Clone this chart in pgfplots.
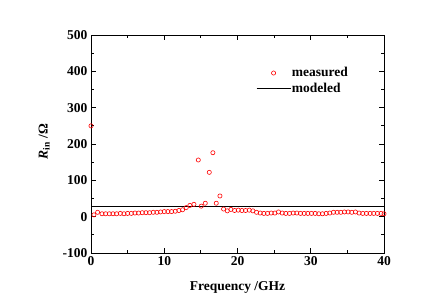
\documentclass[border=0pt]{standalone}
\usepackage{pgfplots}
\pgfplotsset{compat=1.18}
\usepackage{fontspec}
\setmainfont{Liberation Serif}
\newcommand{\ff}{\fontsize{13.5}{15}\selectfont\bfseries}
\pgfplotsset{
  marklegend/.style={legend image code/.code={\draw[mark repeat=2,mark phase=2,##1] plot coordinates {(0pt,0pt)(17pt,0pt)(34pt,0pt)};}},
  linelegend/.style={legend image code/.code={\draw[##1] (0pt,0pt) -- (34pt,0pt);}},
}
\begin{document}
\begin{tikzpicture}
\path[use as bounding box] (0,0) rectangle (435pt,306pt);
\begin{axis}[
  at={(91pt,53pt)}, anchor=south west,
  scale only axis, width=293pt, height=218pt,
  xmin=0, xmax=40, ymin=-100, ymax=500,
  xtick={0,10,20,30,40}, ytick={-100,0,100,200,300,400,500},
  minor x tick num=1, minor y tick num=1,
  major tick length=5pt, minor tick length=3pt,
  tick align=inside,
  axis line style={line width=0.8pt},
  every tick/.style={black, line width=0.8pt},
  /pgf/number format/assume math mode=true,
  tick label style={font=\ff},
  xlabel={Frequency /GHz},
  ylabel={\textit{R}\textsubscript{in} /Ω},
  label style={font=\ff},
  xlabel style={at={(axis description cs:0.5,-0.156)}, anchor=center},
  ylabel style={at={(axis description cs:-0.16,0.51)}, anchor=center},
  legend style={draw=none, fill=none, font=\ff, at={(0.563,0.856)}, anchor=north west,
    inner sep=0pt, nodes={inner sep=1pt}, row sep=2.5pt, legend cell align=left},
]
\addplot[only marks, red, mark=o, mark size=2.1pt, line width=0.6pt, marklegend]
coordinates {
(0,250)(0.4,5)(0.9,12)(1.5,8)(2,8)(2.5,8)(3,8)(3.5,8)(4,9)(4.5,8)(5,9)(5.5,9)
(6,10)(6.5,10)(7,11)(7.5,11)(8,11)(8.5,12)(9,12)(9.5,13)(10,14)(10.5,14)(11,14)(11.5,15)
(12,17)(12.5,19)(13,25)(13.5,31)(14.05,34)(14.65,156)(15.05,29)(15.6,37)(16.15,122)(16.64,176)
(17.1,37)(17.6,57)(18.1,21)(18.6,16)(19.1,20)(19.6,17)(20.1,18)(20.6,17)(21.1,17)(21.6,18)
(22.1,16)(22.6,12)(23.1,10)(23.6,9)(24.1,9)(24.6,10)(25.1,10)(25.6,13)(26.1,10)(26.6,9)
(27.1,9)(27.6,10)(28.1,10)(28.6,9)(29.1,9)(29.6,9)(30.1,9)(30.6,9)(31.1,8)(31.6,8)
(32.1,9)(32.6,10)(33.1,12)(33.6,12)(34.1,12)(34.6,13)(35.1,13)(35.6,12)(36.1,13)(36.6,10)
(37.1,9)(37.6,9)(38.1,9)(38.6,9)(39.1,9)(39.6,9)(40,8)
};
\addlegendentry{measured}
\addplot[black, line width=0.8pt, linelegend]
coordinates {(0,27)(40,27)};
\addlegendentry{modeled}
\end{axis}
\end{tikzpicture}
\end{document}
